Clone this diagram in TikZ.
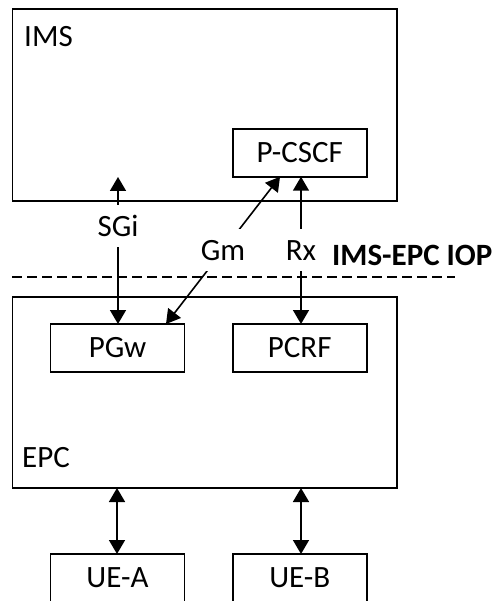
\documentclass[tikz,border=0pt]{standalone}
\usepackage{fontspec}
\setmainfont{Carlito}
\usetikzlibrary{arrows.meta}
\begin{document}
\begin{tikzpicture}[x=1pt,y=-1pt,
  font=\fontsize{31}{36}\selectfont,
  box/.style={draw,line width=1.8pt,outer sep=0pt,inner sep=0pt},
  bigbox/.style={box,minimum width=384.5pt,minimum height=192pt},
  nf/.style={box,minimum width=134pt,minimum height=48pt},
  conn/.style={line width=1.6pt,{Triangle[length=14pt,width=16pt]}-{Triangle[length=14pt,width=16pt]}},
  lbl/.style={fill=white,inner xsep=2pt,inner ysep=0pt,minimum height=42pt},
  title/.style={inner sep=0pt,anchor=base west}]
\useasboundingbox (0,0) rectangle (500,601);
\clip (0,0) rectangle (500,601);
% containers
\node[bigbox] (ims) at (204.75,105) {};
\node[box,minimum width=384.5pt,minimum height=191pt] (epc) at (204.75,392.5) {};
\node[title] (imsT) at (24,47) {IMS};
\node[title] (epcT) at (22,467) {EPC};
% functions
\node[nf] (pcscf) at (299.75,152.75) {P-CSCF};
\node[nf] (pgw) at (117.5,348) {PGw};
\node[nf] (pcrf) at (299.75,348) {PCRF};
\node[nf] (uea) at (117.5,578) {UE-A};
\node[nf] (ueb) at (299.75,578) {UE-B};
% IOP line
\coordinate (dashL) at (12,277);
\coordinate (dashR) at (455,277);
\draw[line width=1.6pt,dash pattern=on 9.5pt off 5.5pt] (dashL) -- (dashR);
\node[title,font=\fontsize{31}{36}\selectfont\bfseries] (iop) at (332,265) {IMS-EPC IOP};
% interfaces
\coordinate (sgiEnd) at (118,177);
\draw[conn] (pgw.north -| sgiEnd) -- node[lbl,pos=0.667] (sgi) {SGi} (sgiEnd);
\draw[conn] (pcscf.south -| 280,0) -- node[lbl] (gm) {Gm} (pgw.north -| 166,0);
\draw[conn] (pcscf.south -| 301,0) -- node[lbl] (rx) {Rx} (pcrf.north -| 301,0);
\draw[conn] (epc.south -| 117,0) -- (uea.north -| 117,0);
\draw[conn] (epc.south -| 301,0) -- (ueb.north -| 301,0);
\end{tikzpicture}
\end{document}
